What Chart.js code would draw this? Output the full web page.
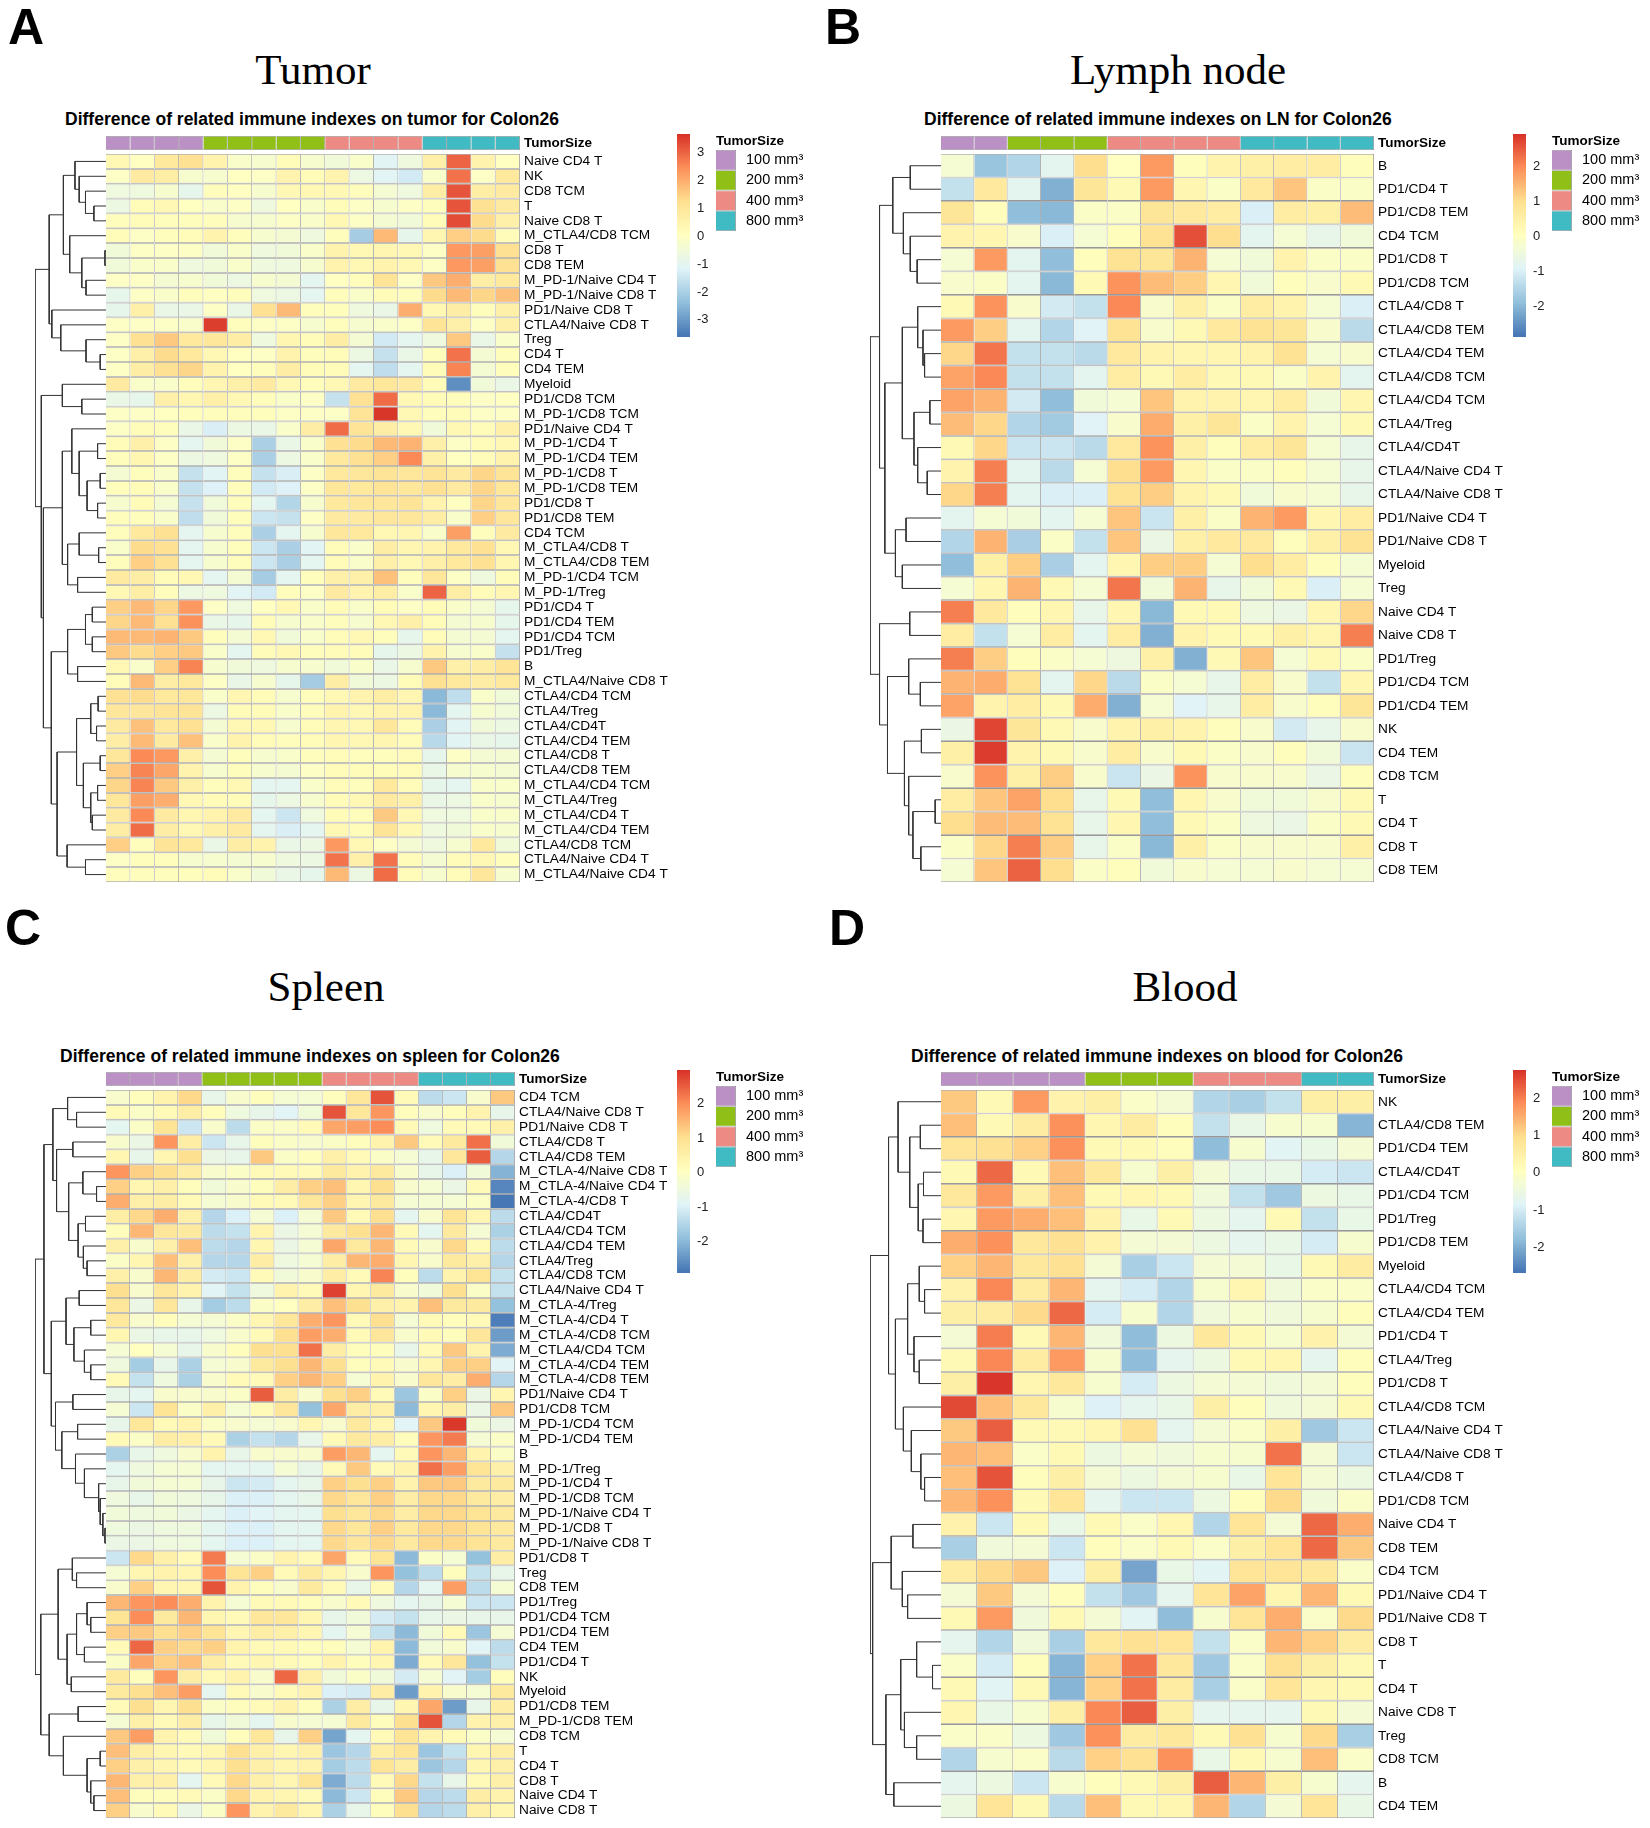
<!DOCTYPE html>
<html>
<head>
<meta charset="utf-8">
<script src="https://cdn.jsdelivr.net/npm/chart.js@4/dist/chart.umd.js"></script>
<style>
  body { margin: 0; background: #fff; width: 1650px; height: 1828px; position: relative; overflow: hidden; }
  canvas { position: absolute; }
  .txt { position: absolute; white-space: nowrap; color: #000; line-height: 1; }
  .letter { font: bold 50px "Liberation Sans"; }
  .organ { font: 43px "Liberation Serif"; transform: translateX(-50%); }
  .main { font: bold 17.5px "Liberation Sans"; }
  .legend-title { font: bold 13.5px "Liberation Sans"; }
</style>
</head>
<body>
<script>
// ---- A: tumor ----
const tumorRows = ["Naive CD4 T","NK","CD8 TCM","T","Naive CD8 T","M_CTLA4/CD8 TCM","CD8 T","CD8 TEM","M_PD-1/Naive CD4 T","M_PD-1/Naive CD8 T","PD1/Naive CD8 T","CTLA4/Naive CD8 T","Treg","CD4 T","CD4 TEM","Myeloid","PD1/CD8 TCM","M_PD-1/CD8 TCM","PD1/Naive CD4 T","M_PD-1/CD4 T","M_PD-1/CD4 TEM","M_PD-1/CD8 T","M_PD-1/CD8 TEM","PD1/CD8 T","PD1/CD8 TEM","CD4 TCM","M_CTLA4/CD8 T","M_CTLA4/CD8 TEM","M_PD-1/CD4 TCM","M_PD-1/Treg","PD1/CD4 T","PD1/CD4 TEM","PD1/CD4 TCM","PD1/Treg","B","M_CTLA4/Naive CD8 T","CTLA4/CD4 TCM","CTLA4/Treg","CTLA4/CD4T","CTLA4/CD4 TEM","CTLA4/CD8 T","CTLA4/CD8 TEM","M_CTLA4/CD4 TCM","M_CTLA4/Treg","M_CTLA4/CD4 T","M_CTLA4/CD4 TEM","CTLA4/CD8 TCM","CTLA4/Naive CD4 T","M_CTLA4/Naive CD4 T"];
const tumorSizes = [100,100,100,100,200,200,200,200,200,400,400,400,400,800,800,800,800];
const tumorRange = [-3.62, 3.68];
const tumorTicks = [-3,-2,-1,0,1,2,3];
const tumorValues = [
[.3,0,.9,1.2,.5,-.2,-.3,.2,-.3,-.5,-.2,-1.1,-.6,.6,3,.5,0],
[-.1,.8,.7,-.3,-.3,0,-.1,.5,.2,.5,-.7,-1.1,-1.4,-.2,2.8,-.1,.9],
[-.6,-.6,-.3,-.9,.1,0,-.3,.3,.3,.3,.1,-.4,-.6,.7,3.2,.7,.8],
[-.7,.2,.3,0,-.2,-.1,-.6,0,-.2,.2,-.1,-.3,-.1,.1,3.2,1.2,.8],
[.1,.2,.1,.1,.1,-.3,-.3,-.1,-.2,.3,-.1,-.4,-.5,.2,3.3,1.3,.6],
[.2,-.1,.1,.2,.5,.1,-.3,-.4,-.6,.1,-2.1,1.8,-.9,.4,1.5,1.3,.2],
[-.5,-.1,-.1,-.1,-.5,-.2,-.6,-.5,-.2,.5,.3,.4,.3,-.1,2.3,2.2,1.2],
[-.5,-.2,-.2,-.6,-.5,-.2,-.6,-.6,-.3,.5,.3,.5,.3,-.1,2.3,2.2,1.2],
[-.1,-.1,-.4,-.3,-.5,-.7,-.3,-.4,-1,0,.1,1.1,-.1,1.6,2,.7,.9],
[-.9,-.1,-.2,.1,0,.1,-.6,-.7,-1,.1,-.2,.2,.1,1.3,1.8,1.4,1.7],
[-.9,.6,-.8,-.8,-.1,-.8,1.2,1.8,.1,.1,-.6,-.8,2,.3,.7,.1,.6],
[-.1,-.1,-.1,-.2,3.5,.1,-.1,-.1,-.3,.1,-.3,-.2,-.1,1.1,.6,-.1,.6],
[-.1,1.2,1.6,.9,1,.7,-.6,.4,.2,.7,-.4,-1.4,-1,-.6,1.6,-.8,-.2],
[-.1,.6,1.3,.9,.3,0,-.1,.5,.1,.2,-.7,-1.6,-.8,.1,2.8,-.4,.1],
[-.1,.7,1.2,1.4,.5,0,.1,.7,.2,.2,-1,-1.7,-1,.2,2.6,-.4,.1],
[.8,-.2,-.2,.1,.4,.6,.8,.3,.1,.3,.8,1,.8,.2,-3.2,-.5,-.8],
[-.8,-.9,.6,.4,.6,.3,.1,-.2,-.1,-1.6,1.2,2.9,.3,.2,.1,-.1,0],
[-.1,-.1,0,.1,.1,.1,.1,-.1,-.1,-.1,1.1,3.6,.3,.1,.2,-.1,-.1],
[-.1,.2,.1,-.8,-1.3,-.7,-.8,-.2,.7,2.9,1.1,.7,.3,-.5,.3,.2,.6],
[.2,.6,-.1,-1,-.5,-.1,-2,-.8,-.2,1.2,1.3,1.8,1.9,.6,-.1,.2,.3],
[.1,.4,-.1,-.7,-.6,-.1,-2,-.7,-.2,.9,1.2,1.5,2.5,.6,0,.2,.5],
[-.4,.1,-.2,-1.6,-1.1,.1,-1.6,-1.3,-.1,.9,1,1.1,1,1.1,.8,1.4,1.1],
[.1,.2,-.2,-1.6,-1.2,.1,-1.4,-1.2,-.1,1,.9,1.1,1,1.2,.8,1.4,1],
[-.3,.2,-.4,-1.6,-.5,.1,-1,-1.9,-.3,.9,1,1,1.1,.5,0,1.4,1],
[.1,.1,-.2,-1.7,-.5,.1,-1.5,-1.6,-.1,.8,.8,1,1,.7,-.2,1.5,1],
[.1,.9,1.2,-1,-.3,.1,-2,-1,-.3,1,.9,.3,.4,-.2,2.2,.1,.8],
[-.2,1.3,1.2,-1,-.3,.1,-1.5,-2,-1.1,.2,-.2,.7,.4,.5,.9,1.2,.3],
[.1,1.5,1.2,-1,-.3,.1,-1.5,-2,-1,.2,-.2,.6,.3,.6,.9,1.2,.4],
[.8,.7,.2,.3,-1,-.4,-2.1,-1,.1,.6,.6,1.7,.1,1,-.1,-.6,.2],
[.3,.7,.1,-.7,-.6,-1.1,-1.4,.1,-.1,.8,.5,.7,-.2,3,.7,.2,.4],
[1.5,1.8,1.4,2.3,-.1,-.6,0,.3,-.2,.2,-.2,.2,-.1,.2,-.2,-.4,-.9],
[1.4,1.8,1.2,2.4,-.8,-.9,.2,-.3,-.2,.1,-.3,.3,.6,.2,-.4,-.3,-.9],
[1.8,1.8,1.9,1.6,.1,-.4,.3,-.5,-.2,.2,.3,.1,-.9,.2,-.4,-.4,-1],
[1.6,1.3,1.5,1.6,-.2,-1,.2,.3,.1,.2,.2,-.9,-.7,.5,-.3,-.2,-1.6],
[.3,-.2,1.5,2.6,-.3,-.5,-.6,-.3,-.3,-.5,-.2,-.8,-.3,1.6,.6,.7,1.1],
[.2,1.8,.7,.9,-.1,-.8,-.3,-.9,-2.1,.7,-.5,-.7,.2,1.2,.9,.7,.9],
[1.2,1.3,.9,1,-.2,.4,.2,-.3,.1,.3,.5,.7,.4,-2.5,-1.7,-.2,-.5],
[1,1,1.1,1.1,-.7,.2,.2,-.2,.1,.5,.3,.5,.5,-2.5,-1,-.3,-.5],
[.8,1.7,.9,1.2,-.4,.3,.3,-.3,.2,.4,.3,1,.2,-2,-1.1,-.5,-.7],
[.7,1.8,.8,1.7,-.2,.5,.2,.1,.2,.4,.3,.4,.2,-1.8,-1.1,-.8,-.9],
[1,2.5,2.3,.6,-.4,.1,-.3,-.2,.1,.2,.1,.1,.2,-.9,-.1,-.4,-.4],
[1.5,2.6,2.1,.5,-.3,.1,-.3,-.4,-.1,.2,.2,.2,.2,-.8,-.3,-.3,-.4],
[1.4,2.6,1.6,.6,.1,.3,-1,-1,-.2,.2,.1,.9,.2,-.9,-1,-.2,-.2],
[1,2.2,2,.3,.2,.2,-.9,-.7,-.3,.2,.3,.8,.6,-.8,-.7,-.2,-.3],
[.8,2.5,.8,.4,.5,.8,-1,-1.5,-.6,.2,.1,1.6,.3,-.6,-.6,-.2,-.2],
[.7,2.9,.7,.3,.6,.8,-1,-1.3,-1,.3,.2,1.1,.3,-.6,-.5,-.2,-.3],
[1.5,.1,1.1,.9,-.8,.7,.5,-.8,-.7,2.3,.3,-.1,-.4,-.6,-.3,.9,-.5],
[-.1,.1,.1,-.3,-.3,-.4,-.3,-.6,-.7,2.8,.6,2.8,.2,-.4,.2,.3,.1],
[.1,.1,.1,.1,.2,-.2,-.5,-.8,-.9,1.8,-.7,2.9,.2,-.3,.2,1,-.3]
];
// row tree: [merge height, upper child, lower child], 0 is a leaf
const tumorTree = [135,
  [108,
    [81,
      [59,0,[51,0,[39,0,[23,0,0]]]],
      [69,0,[46,[2,0,0],[38,0,0]]]],
    [103,0,[86,0,[38,0,[11,0,0]]]]],
  [123,
    [83,0,[46,0,0]],
    [119,
      [83,
        [65,0,[51,[16,0,0],[36,[11,0,0],[16,0,0]]]],
        [73,[51,0,[14,0,0]],[54,0,0]]],
      [104,
        [73,[39,[26,0,0],[26,0,0]],[54,0,0]],
        [93,
          [56,[29,[15,0,0],[18,0,0]],[43,[11,0,0],[29,[16,0,0],[26,0,0]]]],
          [74,0,[39,0,0]]]]]]];

// ---- B: lymph node ----
const lymphRows = ["B","PD1/CD4 T","PD1/CD8 TEM","CD4 TCM","PD1/CD8 T","PD1/CD8 TCM","CTLA4/CD8 T","CTLA4/CD8 TEM","CTLA4/CD4 TEM","CTLA4/CD8 TCM","CTLA4/CD4 TCM","CTLA4/Treg","CTLA4/CD4T","CTLA4/Naive CD4 T","CTLA4/Naive CD8 T","PD1/Naive CD4 T","PD1/Naive CD8 T","Myeloid","Treg","Naive CD4 T","Naive CD8 T","PD1/Treg","PD1/CD4 TCM","PD1/CD4 TEM","NK","CD4 TEM","CD8 TCM","T","CD4 T","CD8 T","CD8 TEM"];
const lymphSizes = [100,100,200,200,200,400,400,400,400,800,800,800,800];
const lymphRange = [-2.87, 2.92];
const lymphTicks = [-2,-1,0,1,2];
const lymphValues = [
[-.3,-1.8,-1.5,-.8,1,0,1.8,.1,.4,.5,.6,.6,.1],
[-1.3,.7,-.8,-2.1,.8,.2,1.8,.3,-.1,.7,1.3,-.1,-.1],
[.8,.1,-1.9,-2,-.1,-.1,.8,.7,.6,-1,.6,.5,1.4],
[.4,.3,-.2,-1,-.3,.1,.9,2.6,1,-.8,-.3,-.7,-.4],
[-.3,1.8,-.8,-1.9,.1,.9,.8,1.5,-.3,-.4,.4,-.1,-.1],
[-.2,-.1,-.8,-2,.2,1.9,1.4,1.2,.3,-.4,.1,-.2,.2],
[.2,1.9,-.2,-1.1,-1.3,2,-.2,.5,-.1,.6,.4,-.3,-1],
[1.8,1.2,-.8,-1.5,-.9,.9,-.2,.2,.7,.9,.8,-.2,-1.4],
[1.1,2.2,-1.3,-1.3,-1.4,.7,.4,.3,.3,.4,.9,-.3,-.2],
[1.7,2,-1.3,-1.3,-.8,.6,.2,.6,.2,.2,-.1,.4,-.8],
[1.7,1.5,-1.1,-1.9,-.4,-.3,1.3,.4,.4,.3,.6,-.4,.3],
[1.4,1.1,-1.5,-1.7,-.9,-.2,1.6,.5,.8,-.1,.4,-.3,.2],
[.2,1.1,-1.2,-1.2,-1.4,.7,1.9,.5,.1,.6,.8,-.3,-.7],
[.4,2.1,-.8,-1.4,-.3,1,1.8,.3,-.1,-.1,.1,-.3,-.7],
[1.1,2.1,-.8,-1,-1,.9,1.2,.4,.2,-.4,-.2,-.3,-.7],
[-.8,-.3,-.4,-.8,-.3,1.3,-1.2,.5,-.1,1.5,1.8,.3,.6],
[-1.5,1.5,-1.6,-.1,-1.3,1.3,-.6,.5,.7,.7,.1,.5,.9],
[-1.9,.5,1.2,-1.6,-.8,.3,1.2,1.2,-.3,1,.6,.1,-.3],
[-.3,.3,1.5,.2,-.3,2.2,-.4,1.5,-.7,-.4,.2,-1,-.3],
[2.1,.7,.1,.3,-.7,.3,-2,.2,.2,-.5,-.6,.3,1.1],
[.6,-1.3,-.3,.6,-.8,.6,-2.1,.4,.2,.2,.5,.3,2.1],
[2.1,1.2,.1,-.1,-.3,-.5,.5,-2.1,.2,1.3,-.3,.2,-.1],
[1.5,1.6,.9,-.8,1.1,-1.4,-.1,-.3,-.7,.6,-.2,-1.3,.3],
[1.7,.4,.6,.2,1.6,-2.1,-.3,-.9,-.7,.6,-.2,.1,.8],
[-.6,2.7,.8,.2,-.2,.4,.5,.4,.1,-.2,-1.1,-.7,-.2],
[.5,2.8,.4,.2,-.2,.6,-.2,.2,-.1,-.2,.1,-.4,-1.2],
[-.2,1.9,.5,1.2,-.2,-1.2,-.6,1.9,-.2,-.2,-.2,-.6,.1],
[.6,1.3,1.7,1,-.7,.2,-1.9,.3,-.2,-.4,-.4,-.2,.2],
[1,1.4,1.4,.9,-.7,.3,-1.9,.2,-.1,-.5,-.6,-.1,.2],
[-.1,1.1,2.1,1.2,-.7,-.1,-2,.5,-.1,-.2,-.2,-.2,.5],
[-.3,1.3,2.4,1,-.1,.1,-.4,-.2,-.3,-.3,-.2,-.3,-.3]
];
const lymphTree = [134,
  [116,
    [91,[58,0,0],[71,0,[58,0,[45,0,0]]]],
    [106,
      [73,[44,0,[34,0,[31,0,0]]],[51,[21,0,0],[44,0,[26,0,0]]]],
      [86,[66,0,0],[73,0,0]]]],
  [116,
    [59,0,0],
    [101,
      [61,0,[39,0,0]],
      [69,[37,0,0],[61,0,[53,[11,0,0],[38,0,0]]]]]]];

// ---- C: spleen ----
const spleenRows = ["CD4 TCM","CTLA4/Naive CD8 T","PD1/Naive CD8 T","CTLA4/CD8 T","CTLA4/CD8 TEM","M_CTLA-4/Naive CD8 T","M_CTLA-4/Naive CD4 T","M_CTLA-4/CD8 T","CTLA4/CD4T","CTLA4/CD4 TCM","CTLA4/CD4 TEM","CTLA4/Treg","CTLA4/CD8 TCM","CTLA4/Naive CD4 T","M_CTLA-4/Treg","M_CTLA-4/CD4 T","M_CTLA-4/CD8 TCM","M_CTLA4/CD4 TCM","M_CTLA-4/CD4 TEM","M_CTLA-4/CD8 TEM","PD1/Naive CD4 T","PD1/CD8 TCM","M_PD-1/CD4 TCM","M_PD-1/CD4 TEM","B","M_PD-1/Treg","M_PD-1/CD4 T","M_PD-1/CD8 TCM","M_PD-1/Naive CD4 T","M_PD-1/CD8 T","M_PD-1/Naive CD8 T","PD1/CD8 T","Treg","CD8 TEM","PD1/Treg","PD1/CD4 TCM","PD1/CD4 TEM","CD4 TEM","PD1/CD4 T","NK","Myeloid","PD1/CD8 TEM","M_PD-1/CD8 TEM","CD8 TCM","T","CD4 T","CD8 T","Naive CD4 T","Naive CD8 T"];
const spleenSizes = [100,100,100,100,200,200,200,200,200,400,400,400,400,800,800,800,800];
const spleenRange = [-2.92, 2.98];
const spleenTicks = [-2,-1,0,1,2];
const spleenValues = [
[-.2,.1,.4,1.1,-.7,-.2,.1,-.3,-.3,.1,.8,2.6,.2,-1.4,-1.2,-.2,1.3],
[.2,-.1,.2,.6,.1,-.5,-.7,-.9,-.4,2.6,.8,1.9,.1,-.2,.1,.4,-.7],
[-.8,-.1,.9,-1.2,-.2,-1.4,-.1,-.1,.2,1.7,1.8,2,.2,-.5,.2,.2,.5],
[-.2,-.6,1.9,.6,-1.2,-.7,.1,-.1,-.2,-.1,.1,.4,1.3,.2,.7,2.3,-.4],
[.3,-.7,.3,1,-.6,-.7,1.3,-.1,.1,.5,.2,-.1,-.3,-.7,.8,2.5,-1.5],
[1.9,1.2,1,.6,-.2,-.1,.2,.2,.2,.7,.4,.7,-.2,-.7,-1,-.4,-2.1],
[1.2,.3,.5,.1,-.4,-.2,.1,.6,1.2,1.4,.3,1,-.2,-.3,-.6,.2,-2.7],
[1.6,.5,.6,.2,-.3,-.2,.2,.2,.8,1.2,.3,.7,-.3,-.3,-.3,-.1,-2.9],
[.6,1.1,1.6,.5,-1.5,-1,-.3,-1,-.3,1.3,.2,1,-.8,-.2,.9,.3,-1.4],
[.1,1.5,.8,.7,-1.4,-1.3,.4,-.6,-.3,.7,1,1.5,.2,-.8,.7,-.3,-1.6],
[.5,-.2,.5,1.4,-1.4,-1.5,.3,-.6,-.3,1.7,.7,1.5,.2,-.2,1.1,.2,-1.4],
[-.1,.3,1.4,.5,-1.5,-1.5,.6,-.5,-.3,.6,1.5,1.6,.3,-.2,.7,.5,-1.5],
[.5,-.2,1.5,.6,-1.1,-1.2,.2,-.4,-.2,.6,.2,2.1,.1,-1.4,.4,.9,-1.3],
[1,-.2,.8,.4,-.9,-1.3,-.5,.4,.2,2.8,.3,.7,-.2,-.4,1,-.1,-1.3],
[.8,-.6,.8,-.7,-1.7,-1.4,-.1,0,.6,1.4,1,.5,.4,1.4,.7,.7,-1.9],
[.7,-.2,.1,-.3,-.3,-.1,.3,.8,1.6,1.9,.2,1,-.3,.2,.1,.2,-2.8],
[.3,-.6,-.7,-.7,-.5,-.2,.2,1,1.8,1.6,.2,.8,-.2,.2,.1,.8,-2.4],
[-.3,0,-.3,-.7,-.2,.1,1,1,2.3,.6,.1,.1,-.7,.2,1.3,.4,-2.2],
[-.5,-1.7,-.7,-1.6,-.3,-.2,.7,1,1.5,1,.1,.2,-.2,.3,1.2,1.2,-.9],
[.2,-1.3,-.5,-1.6,-.2,.2,.2,1.2,1.5,1.2,-.3,.4,-.2,.8,.6,1.6,-1.5],
[-.7,-.8,-.2,-.2,-.2,-.1,2.5,.6,-.2,1,1.2,.2,-1.8,-.1,1.2,-.6,.3],
[-.3,-1.2,.9,-.1,.5,-.3,.2,.8,-1.9,1.7,.6,.5,-2,.3,.6,-.6,1.3],
[-.7,.8,.2,.4,-.1,-.2,-.3,-.2,.3,-.2,.7,.3,-.9,1.3,2.9,-.4,-.6],
[.2,-.1,.6,.5,.2,-1.6,-1.3,-1.5,-.7,.2,.7,.6,.1,1.9,2.2,-.3,-.1],
[-1.6,-.7,-.5,-.2,.4,-.7,-.2,-.2,-.2,1.8,1.5,-.8,.2,1.9,1.5,.4,-.1],
[-.8,-.5,-.3,-.3,-.8,-.8,-.8,-.3,-.7,.2,1.3,.2,.4,2.3,1.8,.9,.5],
[-.7,-.4,-.3,-.3,-.7,-1.2,-1.1,-.8,-.7,1.2,1,1.2,.4,1.3,1.3,.7,.7],
[-.5,-.7,-.4,-.5,-.7,-1,-1,-.8,-.7,1.1,.8,1.2,.6,1.1,1.1,.7,.6],
[-.4,-.5,-.4,-.6,-.8,-1,-.9,-.8,-.8,1,.8,1.1,.6,1.1,1.1,.9,.7],
[-.5,-.6,-.5,-.5,-.8,-1,-1,-.8,-.8,1.1,.8,1.2,.7,1.1,1.1,.9,.7],
[-.6,-.6,-.5,-.5,-.8,-1,-1,-.8,-.8,1.1,.8,1.1,.7,1.1,1.1,.9,.7],
[-1.2,1.1,.5,.2,2.2,-.3,-.1,.4,.2,1.7,.2,.9,-2,-.1,-.3,-1.9,.6],
[-.3,.3,.4,.3,2,.9,1.2,.2,.7,.3,-.2,1.9,-1.9,-1.4,.1,-1.3,-.7],
[-.2,1.2,.3,.3,2.6,.4,.1,-.2,.7,.2,-.7,.2,-1.5,-.8,1.8,-1.4,-.3],
[1.5,1.9,2,1.6,.4,-.3,.2,.2,.1,-.2,.2,-.5,-.8,-.7,-.3,-1.2,-1.2],
[.9,2,.7,1.5,.3,.2,.8,.8,.3,-.7,-.4,-1.1,-1.3,-.7,-.6,-.7,-.7],
[1.2,1.3,1,1.2,.9,.3,.6,.5,.3,-.8,-.3,-1.3,-2,-.4,.2,-1.8,-.3],
[.2,2.4,1.2,1.1,1.2,.4,.2,.2,.1,.1,-.3,.4,-2,-.4,-.2,-.9,-1.4],
[-.1,1.7,1.2,1.4,.6,.2,.3,.2,.1,.4,.1,.3,-2.2,.2,.8,-1.9,-1.3],
[.7,.1,1.9,.6,.2,.4,-.2,2.4,.5,-.4,-.1,-.4,-1.1,-.3,-.9,-1.7,.1],
[.7,1,1.4,1.8,-.8,.2,-.2,.2,.4,-1,-1.1,.6,-2.4,.4,-.2,-.3,.7],
[.2,1,.3,1,-.1,.1,.2,.4,.1,-1.6,.6,-.7,.3,1.7,-2.4,-.7,.6],
[-.3,.5,.2,.6,-.7,-.4,-.8,-.2,-.3,-.3,.7,.1,1,2.6,-1.5,.4,.5],
[1.3,1.8,.4,.2,-.4,.1,.8,-.7,1.2,-2.3,-.8,.2,.9,.4,.2,-.1,-.3],
[1.4,.6,.3,.2,.3,1,.5,.3,.5,-1.8,-1.5,.6,.9,-1.8,-1.3,.3,.6],
[1.2,.5,.3,.2,.3,1,.5,.3,.4,-1.7,-1.4,.9,.6,-1.8,-1.5,.3,.5],
[1.5,.5,.5,-.8,.2,1.1,.5,.3,.9,-2.2,-1.4,.2,1.1,-1.3,-.7,.2,.5],
[1.4,.1,.1,.2,-.1,1.1,.4,.3,.2,-2,-1.2,.1,1.3,-1.5,-1.4,.6,.4],
[1.2,-.2,.2,-.6,-.1,1.9,.4,.7,.3,-1.6,-.7,.1,1,-1.5,-1.4,.5,.3]
];
const spleenTree = [135,
  [118,
    [101,
      [73,0,[56,0,0]],
      [94,[63,0,0],[71,[44,0,[18,0,0]],[53,[39,0,0],[43,0,[36,0,0]]]]]],
    [104,
      [76,[51,0,0],[61,[29,0,0],[41,0,[29,0,0]]]],
      [96,[63,0,0],[84,[54,0,0],[58,0,[41,0,[14,0,[11,0,[6,0,[2,0,0]]]]]]]]]],
  [124,
    [91,
      [64,0,[56,0,0]],
      [74,[56,[36,0,[29,0,0]],[41,0,0]],[66,0,0]]],
    [108,
      [53,0,0],
      [81,0,[36,[11,0,0],[29,0,[23,0,0]]]]]]];

// ---- D: blood ----
const bloodRows = ["NK","CTLA4/CD8 TEM","PD1/CD4 TEM","CTLA4/CD4T","PD1/CD4 TCM","PD1/Treg","PD1/CD8 TEM","Myeloid","CTLA4/CD4 TCM","CTLA4/CD4 TEM","PD1/CD4 T","CTLA4/Treg","PD1/CD8 T","CTLA4/CD8 TCM","CTLA4/Naive CD4 T","CTLA4/Naive CD8 T","CTLA4/CD8 T","PD1/CD8 TCM","Naive CD4 T","CD8 TEM","CD4 TCM","PD1/Naive CD4 T","PD1/Naive CD8 T","CD8 T","T","CD4 T","Naive CD8 T","Treg","CD8 TCM","B","CD4 TEM"];
const bloodSizes = [100,100,100,100,200,200,200,400,400,400,800,800];
const bloodRange = [-2.68, 2.75];
const bloodTicks = [-2,-1,0,1,2];
const bloodValues = [
[1.2,.2,1.7,.4,.5,-.1,-.3,-1.4,-1.5,-1.2,.5,.5],
[1.3,.2,.6,1.8,.3,.6,.1,-1.2,-.6,-.2,-.2,-1.9],
[.8,.9,1.1,1.8,.2,.2,.1,-1.8,-.2,-.8,-.6,-.3],
[.2,2.2,.2,1.3,.7,-.2,.5,-.3,-.6,-.6,-1,-1.1],
[.7,1.7,.5,1.3,.2,.3,.2,-.4,-1.2,-1.6,-.5,-.6],
[.3,1.7,1.5,1.3,.4,-.6,.2,-.5,-.7,.2,-1.2,-.6],
[1.5,1.8,.7,.9,.4,-.3,-.3,-.5,-.7,-.6,-1,-.2],
[1.1,1.4,.7,.9,-.3,-1.5,-1.1,-.3,-.3,-.6,.2,.6],
[.4,1.9,.6,1.4,-.7,-1,-1.4,-.2,.3,-.4,-.1,-.1],
[.5,.6,1,2.2,-1,-.2,-1.4,-.4,-.2,-.4,-.2,.1],
[-.3,2,.2,1.4,-.4,-1.8,-.5,.7,.2,-.2,.4,-.3],
[.2,1.9,.6,1.7,-.2,-1.8,-.7,-.5,.2,.3,-.7,.1],
[.5,2.7,.3,.7,-.2,-1,-.5,-.3,-.3,-.4,-.3,.1],
[2.5,1.3,.7,-.2,-.9,-.7,-.6,.5,.1,-.4,-.3,.2],
[1.2,2.3,.2,.2,.3,.9,-.7,-.3,-.1,.5,-1.6,-1.1],
[1.4,1.3,-.1,.2,-.5,-.3,-.4,-.2,-.2,2.1,-.3,-1.1],
[1.3,2.4,.1,.5,-.3,-.5,-.3,-.2,-.6,.8,-.3,-.5],
[1.4,1.8,.2,.8,-.7,-1.1,-1.1,-.5,.1,1,-.4,-.1],
[.4,-1.1,.2,-.6,.2,-.1,.3,-1.4,.8,-.3,2.2,1.5],
[-1.5,-.4,-.3,-1.1,.1,-.1,.2,-.1,.5,.8,2.2,1.2],
[.6,1,1.2,-.9,.5,-2.1,-.6,-.8,.8,.8,.7,-.1],
[-.3,1.2,-.3,.1,-1.2,-1.6,-.7,.8,1.6,.3,1.4,.2],
[.2,1.7,-.4,.2,-.3,-.8,-1.8,-.2,.8,1.5,-.1,1],
[-.7,-1.4,-.4,-1.5,.7,.9,.8,-1.2,-.1,1.4,1.1,.6],
[-.1,-1,.1,-1.9,1.1,2.1,.7,-1.6,-.1,.9,.5,.2],
[.2,-.8,.2,-1.9,1.1,2.1,.6,-1.5,-.1,.8,.3,.2],
[.3,-.6,-.2,.5,1.9,2.3,.5,-.7,-.7,-.7,.2,-.3],
[-.1,-.1,-.5,-1.6,1.8,.6,.7,.2,.9,-.2,1,-1.5],
[-1.4,-.2,-.1,-1.3,1.1,.9,1.8,-.6,.2,-.2,1.3,-.1],
[-.7,-.5,-1.1,-.2,.1,.2,.5,2.3,1.4,.5,-.2,-.7],
[-.5,.8,.2,-1.3,1.3,.2,.3,1.4,-1.4,-.3,.8,-.6]
];
const bloodTree = [134,
  [99,
    [81,0,[59,[39,0,0],[43,[33,0,0],[34,0,0]]]],
    [86,
      [63,[41,0,[31,0,0]],[51,0,[41,0,0]]],
      [71,0,[56,0,[38,0,[31,0,0]]]]]],
  [129,
    [94,[53,0,0],[73,0,[63,0,0]]],
    [104,
      [76,[46,0,[16,0,0]],[69,0,[46,0,0]]],
      [89,0,0]]]];

const sizeLabels = ["100 mm³","200 mm³","400 mm³","800 mm³"];
const sizeColors = { 100: "#BB90C4", 200: "#90C018", 400: "#EE8A84", 800: "#40BBC4" };
const palette = [[69,117,180],[145,191,219],[224,243,248],[255,255,191],[254,224,144],[252,141,89],[215,48,39]];
const gridColor = "#989898";

Chart.defaults.font.family = '"Liberation Sans"';
Chart.defaults.color = "#000";

function colorOf(v, range) {
  const t = Math.min(0.9999, Math.max(0, (v - range[0]) / (range[1] - range[0]))) * 6;
  const i = Math.floor(t), f = t - i;
  const c = palette[i].map((p, k) => Math.round(p + (palette[i + 1][k] - p) * f));
  return `rgb(${c[0]},${c[1]},${c[2]})`;
}

function addCanvas(left, top, w, h) {
  const c = document.createElement("canvas");
  c.width = w; c.height = h;
  c.style.left = left + "px"; c.style.top = top + "px";
  document.body.appendChild(c);
  return c.getContext("2d");
}

function addText(cls, text, left, top) {
  const d = document.createElement("div");
  d.className = "txt " + cls;
  d.textContent = text;
  d.style.left = left + "px"; d.style.top = top + "px";
  document.body.appendChild(d);
}

// the axis must not reserve room for half a label above and below the cells
function fitRightAxis(width) {
  return s => { s.width = width; s.paddingTop = 0; s.paddingBottom = 0; };
}

// horizontal floating bars, one dataset per column, row names on the right axis
function cellChart(left, top, w, h, rows, colors, font, labelPad, labelW) {
  const n = colors[0].length;
  const datasets = [];
  for (let c = 0; c < n; c++) {
    datasets.push({
      data: rows.map(() => [c, c + 1]),
      backgroundColor: rows.map((_, r) => colors[r][c]),
      borderColor: gridColor,
      borderWidth: 0.85,
      inflateAmount: 0,
      grouped: false,
      barPercentage: 1,
      categoryPercentage: 1
    });
  }
  new Chart(addCanvas(left, top, w + labelW, h), {
    type: "bar",
    data: { labels: rows, datasets },
    options: {
      indexAxis: "y",
      responsive: false,
      animation: false,
      events: [],
      layout: { padding: 0 },
      plugins: { legend: { display: false }, tooltip: { enabled: false } },
      scales: {
        x: { type: "linear", min: 0, max: n, display: false },
        y: {
          type: "category",
          position: "right",
          grid: { display: false, drawTicks: false },
          border: { display: false },
          ticks: { autoSkip: false, padding: labelPad, font, color: "#000", minRotation: 0, maxRotation: 0 },
          afterFit: fitRightAxis(labelW)
        }
      }
    }
  });
}

function treeSegments(tree) {
  const pts = [];
  let next = 0;
  function walk(node) {
    if (node === 0) return { y: 0.5 + next++, h: 0 };
    const a = walk(node[1]), b = walk(node[2]);
    pts.push({ x: a.h, y: a.y }, { x: node[0], y: a.y }, { x: node[0], y: b.y }, { x: b.h, y: b.y }, { x: null, y: null });
    return { y: (a.y + b.y) / 2, h: node[0] };
  }
  walk(tree);
  return { pts, count: next };
}

function treeChart(left, top, w, h, tree) {
  const { pts, count } = treeSegments(tree);
  new Chart(addCanvas(left, top, w, h), {
    type: "scatter",
    data: { datasets: [{ data: pts, showLine: true, spanGaps: false, pointRadius: 0, borderColor: "#333", borderWidth: 1, clip: false }] },
    options: {
      responsive: false,
      animation: false,
      events: [],
      layout: { padding: 0 },
      plugins: { legend: { display: false }, tooltip: { enabled: false } },
      scales: {
        x: { type: "linear", reverse: true, min: 0, max: tree[0], display: false },
        y: { type: "linear", reverse: true, min: 0, max: count, display: false }
      }
    }
  });
}

function colorBar(left, top, h, range, ticks) {
  const steps = [];
  for (let i = 0; i < 100; i++) steps.push(range[0] + (range[1] - range[0]) * i / 100);
  const dv = (range[1] - range[0]) / 100;
  new Chart(addCanvas(left, top, 40, h), {
    type: "bar",
    data: {
      labels: [""],
      datasets: steps.map(s => ({
        data: [[s, s + dv]],
        backgroundColor: colorOf(s + dv / 2, range),
        grouped: false,
        barPercentage: 1,
        categoryPercentage: 1,
        inflateAmount: 0.5
      }))
    },
    options: {
      responsive: false,
      animation: false,
      events: [],
      layout: { padding: 0 },
      plugins: { legend: { display: false }, tooltip: { enabled: false } },
      scales: {
        x: { display: false },
        y: {
          type: "linear",
          position: "right",
          min: range[0],
          max: range[1],
          grid: { display: false, drawTicks: false },
          border: { display: false },
          afterBuildTicks(s) { s.ticks = ticks.map(v => ({ value: v })); },
          ticks: { padding: 7, font: { size: 13 }, color: "#222", callback: v => String(v) },
          afterFit: fitRightAxis(27)
        }
      }
    }
  });
}

function panel(p) {
  addText("letter", p.letter, p.letterX, p.letterY);
  addText("organ", p.organ, p.organX, p.organY);
  addText("main", p.title, p.titleX, p.titleY);
  const cells = p.values.map(row => row.map(v => colorOf(v, p.range)));
  const bold = { size: 13.5, weight: "bold" };
  cellChart(p.x, p.annoY, p.w, 14, ["TumorSize"], [p.sizes.map(s => sizeColors[s])], bold, 4, 110);
  cellChart(p.x, p.y, p.w, 728, p.rows, cells, { size: 13.7 }, 4, 170);
  treeChart(p.x - 71, p.y, 71, 728, p.tree);
  colorBar(p.barX, p.annoY - 2, 203, p.range, p.ticks);
  addText("legend-title", "TumorSize", p.legendX, p.annoY - 3);
  cellChart(p.legendX, p.annoY + 14, 20, 81, sizeLabels, sizeLabels.map((_, i) => [sizeColors[[100, 200, 400, 800][i]]]), { size: 14.5 }, 10, 75);
}

panel({ letter: "A", letterX: 8, letterY: -2, organ: "Tumor", organX: 313, organY: 45,
  title: "Difference of related immune indexes on tumor for Colon26", titleX: 65, titleY: 109,
  x: 106, w: 414, y: 154, annoY: 136, barX: 677, legendX: 716,
  rows: tumorRows, sizes: tumorSizes, values: tumorValues, tree: tumorTree, range: tumorRange, ticks: tumorTicks });
panel({ letter: "B", letterX: 825, letterY: -2, organ: "Lymph node", organX: 1178, organY: 45,
  title: "Difference of related immune indexes on LN for Colon26", titleX: 924, titleY: 109,
  x: 941, w: 433, y: 154, annoY: 136, barX: 1513, legendX: 1552,
  rows: lymphRows, sizes: lymphSizes, values: lymphValues, tree: lymphTree, range: lymphRange, ticks: lymphTicks });
panel({ letter: "C", letterX: 5, letterY: 899, organ: "Spleen", organX: 326, organY: 962,
  title: "Difference of related immune indexes on spleen for Colon26", titleX: 60, titleY: 1046,
  x: 106, w: 409, y: 1090, annoY: 1072, barX: 677, legendX: 716,
  rows: spleenRows, sizes: spleenSizes, values: spleenValues, tree: spleenTree, range: spleenRange, ticks: spleenTicks });
panel({ letter: "D", letterX: 829, letterY: 899, organ: "Blood", organX: 1185, organY: 962,
  title: "Difference of related immune indexes on blood for Colon26", titleX: 911, titleY: 1046,
  x: 941, w: 433, y: 1090, annoY: 1072, barX: 1513, legendX: 1552,
  rows: bloodRows, sizes: bloodSizes, values: bloodValues, tree: bloodTree, range: bloodRange, ticks: bloodTicks });
</script>
</body>
</html>
